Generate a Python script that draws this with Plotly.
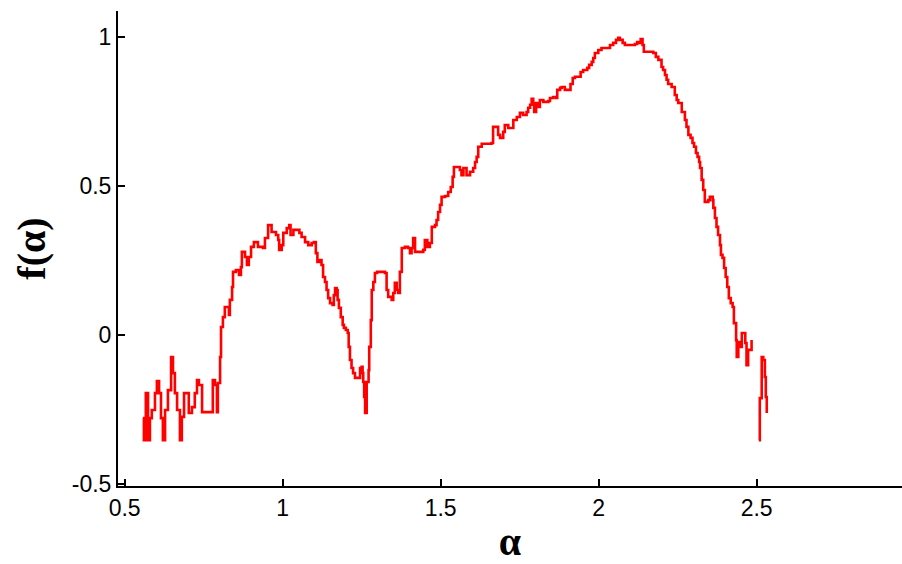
import plotly.graph_objects as go

# Singularity spectrum f(alpha): alpha values and corresponding f values.
# A None entry breaks the curve where the spectrum is undefined.
alpha = [
    0.558, 0.561, 0.567, 0.574, 0.580, 0.586, 0.596, 0.602, 0.609, 0.615,
    0.621, 0.628, 0.637, 0.647, 0.653, 0.659, 0.666, 0.675, 0.681, 0.688,
    0.697, 0.703, 0.713, 0.722, 0.729, 0.735, 0.745, 0.776, 0.779, 0.786,
    0.792, 0.795, 0.802, 0.805, 0.811, 0.817, 0.827, 0.830, 0.833, 0.840,
    0.843, 0.852, 0.862, 0.868, 0.871, 0.881, 0.887, 0.893, 0.900, 0.909,
    0.922, 0.938, 0.944,
    0.954, 0.965, 0.979, 0.986, 0.989, 0.997, 1.002, 1.013, 1.021, 1.025,
    1.034, 1.044, 1.053, 1.060, 1.071, 1.081, 1.092, 1.099, 1.105, 1.110,
    1.118, 1.123, 1.128, 1.134, 1.139, 1.144, 1.150, 1.158, 1.162, 1.166,
    1.171, 1.174, 1.178, 1.184, 1.190, 1.194, 1.200, 1.206, 1.209, 1.213,
    1.218, 1.223, 1.229, 1.239, 1.245, 1.250, 1.253, 1.255, 1.258, 1.261,
    1.266, 1.269, 1.272, 1.274, 1.279, 1.282, 1.287, 1.292, 1.299, 1.318,
    1.324,
    1.329, 1.334, 1.345, 1.350, 1.355, 1.361, 1.366, 1.371, 1.377, 1.387,
    1.397, 1.403, 1.408, 1.413, 1.419, 1.429, 1.445, 1.450, 1.458, 1.466,
    1.472, 1.482, 1.487, 1.492, 1.498, 1.503, 1.514, 1.524, 1.532, 1.538,
    1.542, 1.556, 1.561, 1.566, 1.572, 1.582, 1.593, 1.603, 1.609, 1.614,
    1.619, 1.630, 1.661, 1.666, 1.677, 1.682,
    1.688, 1.698, 1.703, 1.714, 1.730, 1.741, 1.751, 1.761, 1.772, 1.777,
    1.783, 1.788, 1.793, 1.796, 1.802, 1.806, 1.814, 1.825, 1.841, 1.846,
    1.856, 1.865, 1.869, 1.878, 1.883, 1.893, 1.904, 1.911, 1.918, 1.925,
    1.935, 1.943, 1.951, 1.964, 1.970, 1.978, 1.983, 1.988, 1.999, 2.009,
    2.025, 2.036, 2.046, 2.055, 2.062, 2.067, 2.076, 2.083, 2.099, 2.115,
    2.122, 2.128, 2.133, 2.139, 2.143, 2.157, 2.173, 2.181, 2.189, 2.199,
    2.204, 2.210, 2.215, 2.220, 2.231, 2.241, 2.247, 2.252, 2.263, 2.273,
    2.278, 2.284, 2.291, 2.297, 2.302, 2.308, 2.313, 2.318, 2.321,
    2.326, 2.331, 2.336, 2.347, 2.352, 2.361, 2.363, 2.368, 2.373, 2.378,
    2.384, 2.387, 2.392, 2.397, 2.402, 2.407, 2.412, 2.418, 2.424, 2.428,
    2.435, 2.437, 2.442, 2.447, 2.453, 2.460, 2.464, 2.468, 2.473, 2.479,
    2.484,
    None,
    2.507, 2.510, 2.516, 2.521, 2.526, 2.529, 2.532,
]

f_alpha = [
    -0.279, -0.353, -0.195, -0.353, -0.279, -0.252, -0.195, -0.155, -0.195, -0.279,
    -0.353, -0.252, -0.185, -0.074, -0.128, -0.195, -0.252, -0.353, -0.275, -0.195,
    -0.195, -0.262, -0.242, -0.195, -0.151, -0.168, -0.259, -0.259, -0.151, -0.168,
    -0.259, -0.161, -0.074, 0.027, 0.060, 0.094, 0.094, 0.067, 0.118, 0.161,
    0.212, 0.218, 0.202, 0.228, 0.279, 0.262, 0.235, 0.262, 0.296, 0.312,
    0.296, 0.292, 0.326,
    0.369, 0.346, 0.336, 0.319, 0.286, 0.302, 0.343, 0.359, 0.369, 0.336,
    0.353, 0.353, 0.343, 0.329, 0.312, 0.302, 0.309, 0.312, 0.275, 0.245,
    0.252, 0.235, 0.195, 0.178, 0.151, 0.124, 0.107, 0.101, 0.134, 0.158,
    0.151, 0.118, 0.091, 0.060, 0.034, 0.024, 0.017, 0.007, -0.040, -0.084,
    -0.111, -0.128, -0.144, -0.144, -0.111, -0.107, -0.128, -0.158, -0.208, -0.262,
    -0.158, -0.158, -0.118, -0.040, 0.050, 0.151, 0.178, 0.208, 0.212, 0.212,
    0.208,
    0.151, 0.128, 0.118, 0.141, 0.175, 0.151, 0.141, 0.212, 0.292, 0.296,
    0.292, 0.275, 0.292, 0.326, 0.279, 0.279, 0.286, 0.319, 0.296, 0.309,
    0.363, 0.369, 0.386, 0.413, 0.437, 0.464, 0.467, 0.480, 0.497, 0.531,
    0.564, 0.564, 0.554, 0.537, 0.561, 0.537, 0.548, 0.561, 0.581, 0.598,
    0.632, 0.642, 0.645, 0.699, 0.699, 0.672,
    0.662, 0.682, 0.705, 0.695, 0.722, 0.732, 0.746, 0.739, 0.749, 0.763,
    0.773, 0.793, 0.779, 0.749, 0.779, 0.766, 0.789, 0.783, 0.786, 0.796,
    0.799, 0.796, 0.823, 0.830, 0.833, 0.823, 0.823, 0.843, 0.863, 0.867,
    0.867, 0.883, 0.890, 0.897, 0.907, 0.917, 0.930, 0.947, 0.957, 0.964,
    0.964, 0.974, 0.981, 0.991, 0.998, 0.991, 0.981, 0.974, 0.974, 0.977,
    0.984, 0.981, 0.994, 0.974, 0.951, 0.951, 0.947, 0.934, 0.924, 0.900,
    0.890, 0.873, 0.857, 0.843, 0.833, 0.806, 0.789, 0.779, 0.749, 0.722,
    0.699, 0.672, 0.662, 0.645, 0.632, 0.611, 0.598, 0.581, 0.561,
    0.521, 0.487, 0.447, 0.453, 0.464, 0.453, 0.427, 0.393, 0.363, 0.336,
    0.302, 0.269, 0.259, 0.225, 0.195, 0.161, 0.124, 0.107, 0.094, 0.040,
    -0.017, -0.074, -0.024, -0.040, 0.007, 0.007, -0.027, -0.101, -0.050, -0.050,
    -0.017,
    None,
    -0.353, -0.212, -0.074, -0.084, -0.141, -0.208, -0.262,
]

x_ticks = [0.5, 1, 1.5, 2, 2.5]
x_tick_text = ["0.5", "1", "1.5", "2", "2.5"]
y_ticks = [-0.5, 0, 0.5, 1]
y_tick_text = ["-0.5", "0", "0.5", "1"]

fig = go.Figure()
fig.add_trace(go.Scatter(
    x=alpha,
    y=f_alpha,
    mode="lines",
    line=dict(color="#ff0000", width=2.6, shape="hv"),
    connectgaps=False,
    showlegend=False,
    hoverinfo="skip",
))

tick_font = dict(family="Liberation Sans, Arial, sans-serif", size=23, color="#000000")
title_font = dict(family="Liberation Serif, Times New Roman, serif", size=40, color="#000000")

fig.update_layout(
    width=902,
    height=564,
    margin=dict(l=118, r=0, t=11, b=78),
    paper_bgcolor="#ffffff",
    plot_bgcolor="#ffffff",
    xaxis=dict(
        range=[0.479, 2.96],
        tickvals=x_ticks,
        ticktext=x_tick_text,
        ticks="inside",
        ticklen=7,
        tickwidth=2,
        tickcolor="#000000",
        showline=True,
        linecolor="#000000",
        linewidth=2,
        showgrid=False,
        zeroline=False,
        tickfont=tick_font,
        title=dict(text="<b>α</b>", font=title_font, standoff=10),
    ),
    yaxis=dict(
        range=[-0.507, 1.088],
        tickvals=y_ticks,
        ticktext=y_tick_text,
        ticks="inside",
        ticklen=7,
        tickwidth=2,
        tickcolor="#000000",
        showline=True,
        linecolor="#000000",
        linewidth=2,
        showgrid=False,
        zeroline=False,
        tickfont=tick_font,
        title=dict(text="<b>f(α)</b>", font=title_font, standoff=14),
    ),
)

fig.write_html("out.html")
